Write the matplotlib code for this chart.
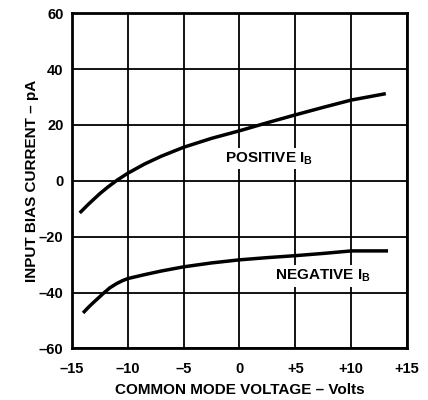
import matplotlib
matplotlib.use("Agg")
import matplotlib.pyplot as plt

plt.rcParams['font.family'] = ['Liberation Sans', 'DejaVu Sans']
plt.rcParams['font.weight'] = 'bold'
plt.rcParams['mathtext.fontset'] = 'custom'
plt.rcParams['mathtext.rm'] = 'Liberation Sans:bold'
plt.rcParams['mathtext.bf'] = 'Liberation Sans:bold'
plt.rcParams['mathtext.it'] = 'Liberation Sans:bold'

# Data
pos_x = [-14.3, -13.5, -12.5, -11.8, -11.0, -10.0, -8.5, -7.0, -5.0, -2.5, 0.0, 2.5, 5.0, 7.5, 10.0, 13.1]
pos_y = [-11.5, -8.3, -4.6, -2.3, 0.1, 2.7, 6.0, 8.8, 12.0, 15.2, 17.9, 20.8, 23.6, 26.3, 28.9, 31.2]
neg_x = [-14.0, -13.5, -13.0, -12.1, -11.6, -11.0, -10.5, -10.0, -8.5, -7.0, -5.0, -2.5, 0.0, 2.5, 5.0, 7.5, 10.0, 13.3]
neg_y = [-47.3, -45.2, -43.3, -40.0, -38.3, -36.8, -35.8, -35.0, -33.6, -32.3, -30.8, -29.4, -28.3, -27.5, -26.8, -26.0, -25.1, -25.1]

x_ticks = [-15, -10, -5, 0, 5, 10, 15]
x_labels = ['\u201315', '\u201310', '\u20135', '0', '+5', '+10', '+15']
y_ticks = [-60, -40, -20, 0, 20, 40, 60]
y_labels = ['\u201360', '\u201340', '\u201320', '0', '20', '40', '60']

fig = plt.figure(figsize=(4.28, 4.0), dpi=100)
ax = fig.add_axes([0.168, 0.129, 0.783, 0.838])

ax.set_xlim(-15, 15)
ax.set_ylim(-60, 60)
ax.set_xticks(x_ticks)
ax.set_xticklabels(x_labels)
ax.set_yticks(y_ticks)
ax.set_yticklabels(y_labels)
ax.tick_params(axis='both', length=0, labelsize=10.5)
ax.tick_params(axis='x', pad=10)
ax.tick_params(axis='y', pad=6)
for lbl in ax.get_xticklabels() + ax.get_yticklabels():
    lbl.set_fontweight('bold')

ax.grid(True, color='black', linewidth=1.3)
ax.set_axisbelow(True)
for s in ax.spines.values():
    s.set_linewidth(2.0)
    s.set_zorder(5)

ax.plot(pos_x, pos_y, color='black', linewidth=2.5, zorder=3, solid_capstyle='butt')
ax.plot(neg_x, neg_y, color='black', linewidth=2.5, zorder=3, solid_capstyle='butt')

ax.text(-1.3, 8, r'POSITIVE I$_\mathbf{B}$', fontsize=11, fontweight='bold',
        va='center', ha='left', zorder=4,
        bbox=dict(facecolor='white', edgecolor='none', pad=2))
ax.text(3.2, -34, r'NEGATIVE I$_\mathbf{B}$', fontsize=11, fontweight='bold',
        va='center', ha='left', zorder=4,
        bbox=dict(facecolor='white', edgecolor='none', pad=2))

ax.set_xlabel('COMMON MODE VOLTAGE \u2013 Volts', fontsize=11, fontweight='bold', labelpad=5)
ax.set_ylabel('INPUT BIAS CURRENT \u2013 pA', fontsize=11, fontweight='bold', labelpad=0)

fig.savefig('out.png', dpi=100)
